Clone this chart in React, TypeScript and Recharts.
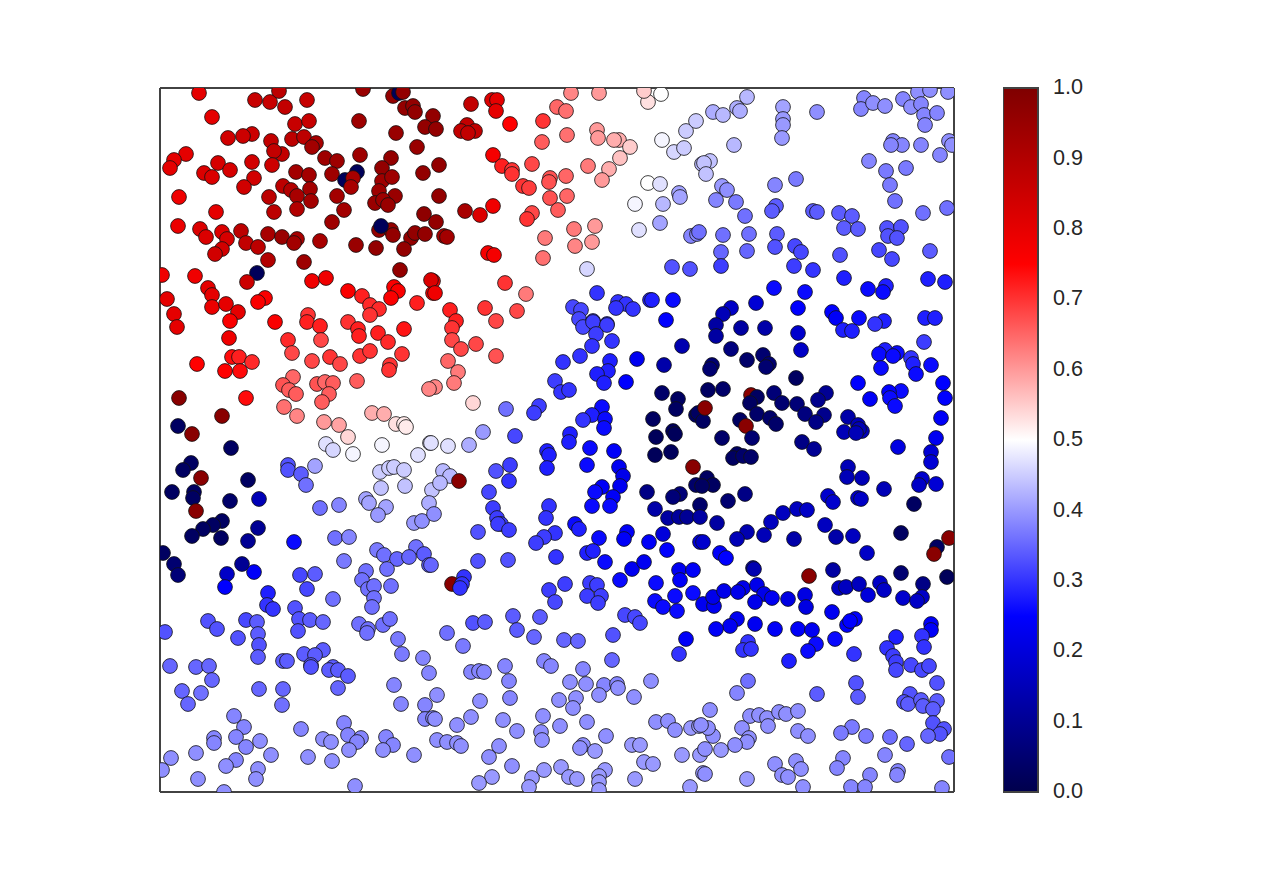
import { Bar, BarChart, Scatter, ScatterChart, XAxis, YAxis } from 'recharts'

type Pt = [number, number, number]

// x, y, value, region by region
const upperLeft: Pt[] = [
  [39,699,.8],[95,692,.86],[110,690,.86],[119,701,.88],[125,685,.87],[147,692,.86],[52,675,.8],[203,703,.95],[233,696,.96],[239,699,.02],[243,700,.96],[245,684,.96],[253,686,.96],[255,680,.96],[273,676,.96],[199,671,.94],[135,668,.86],[149,671,.86],[265,665,.96],[236,659,.95],[92,658,.85],[83,656,.85],[68,654,.84],[111,651,.87],[132,653,.88],[144,655,.88],[156,649,.92],[152,645,.93],[257,645,.95],[26,638,.8],[14,632,.8],[10,624,.8],[58,629,.83],[70,622,.83],[44,619,.82],[52,615,.82],[92,630,.84],[122,638,.87],[114,641,.87],[112,627,.85],[165,634,.94],[177,631,.94],[200,637,.94],[231,634,.96],[222,624,.96],[136,620,.93],[149,617,.93],[172,618,.94],[197,620,.02],[185,612,.02],[193,614,.92],[191,605,.92],[222,611,.94],[232,615,.94],[263,619,.96],[94,614,.84],[84,605,.84],[123,606,.88],[131,602,.9],[150,603,.93],[137,596,.92],[151,591,.93],[109,595,.88],[19,595,.78],[177,596,.93],[219,601,.94],[235,596,.95],[215,589,.95],[223,592,.94],[228,587,.95],[114,580,.88],[137,583,.9],[184,582,.93],[56,580,.8],[264,578,.97],[172,570,.94],[18,566,.79],[40,563,.82],[46,555,.82],[62,560,.82],[67,553,.83],[81,561,.88],[62,543,.84],[55,538,.84],[86,549,.87],[98,545,.88],[108,558,.92],[122,555,.95],[137,553,.92],[134,549,.93],[160,551,.92],[196,547,.95],[216,544,.96],[219,562,.96],[231,562,.96],[233,557,.96],[221,566,.02],[251,554,.96],[255,559,.96],[265,558,.96],[244,543,.96],[108,532,.9],[144,530,.94],[240,522,.96],[2,517,.78],[35,516,.78],[97,519,.02],[87,510,.85],[152,511,.78],[166,514,.78],[48,504,.8],[52,497,.8],[52,485,.79],[66,488,.8],[78,480,.8],[70,471,.76],[7,493,.8],[14,478,.8],[105,494,.76],[98,490,.76],[188,501,.76],[202,496,.72],[210,487,.71],[219,483,.71],[210,477,.7],[234,505,.76],[238,501,.76],[231,494,.76],[257,489,.72],[273,511,.76],[273,499,.76],[148,477,.7],[115,470,.76],[188,470,.7],
]
const upperMiddle: Pt[] = [
  [276,663,.96],[279,627,.96],[279,596,.96],[276,570,.96],[284,556,.93],[287,555,.93],[305,581,.92],[320,577,.82],[333,586,.78],[311,688,.87],[332,692,.82],[337,692,.8],[336,681,.8],[350,668,.75],[307,667,.87],[301,661,.87],[315,661,.87],[308,659,.87],[383,671,.7],[382,650,.66],[397,685,.65],[406,681,.64],[411,699,.62],[439,699,.6],[407,657,.64],[437,662,.6],[438,654,.6],[459,652,.58],[454,652,.58],[470,645,.55],[460,634,.56],[333,637,.77],[342,626,.72],[352,622,.7],[352,618,.7],[372,628,.68],[428,626,.63],[449,623,.58],[442,612,.6],[406,616,.65],[390,614,.67],[389,610,.67],[363,606,.7],[369,604,.69],[407,596,.65],[390,594,.67],[398,582,.66],[372,579,.68],[367,573,.7],[414,563,.63],[435,566,.6],[385,554,.63],[432,550,.6],[415,546,.62],[383,534,.64],[328,539,.77],[334,537,.77],[427,523,.46],[271,512,.82],[275,499,.78],[345,509,.7],[366,498,.63],[325,484,.7],[357,481,.68],[290,482,.72],[296,471,.72],[336,471,.68],[502,652,.49],[475,588,.49],[488,609,.5],[500,608,.47],[479,562,.47],[503,588,.43],[519,599,.41],[520,595,.41],[500,569,.41],[514,640,.46],[524,644,.45],[526,661,.45],[536,671,.45],[501,698,.5],[488,690,.53],[484,701,.55],[542,628,.43],[531,556,.38],[537,558,.38],[512,525,.33],[530,523,.33],[437,499,.3],[413,485,.32],[421,482,.32],[458,490,.3],[466,488,.3],[473,483,.3],[456,484,.3],[490,492,.28],[492,492,.28],[513,492,.26],[506,472,.25],[419,473,.32],[433,471,.31],[447,468,.3],
]
const upperRight: Pt[] = [
  [587,695,.43],[553,680,.42],[563,677,.43],[577,684,.42],[580,681,.42],[623,685,.41],[623,673,.4],[623,667,.4],[622,654,.4],[657,680,.39],[574,647,.43],[704,694,.38],[701,683,.38],[713,689,.39],[725,686,.39],[743,693,.38],[751,685,.39],[758,700,.39],[770,702,.39],[761,688,.38],[764,677,.38],[777,679,.38],[765,667,.38],[788,700,.39],[733,651,.38],[742,647,.38],[731,647,.38],[761,647,.38],[789,651,.39],[792,647,.39],[780,637,.38],[709,631,.38],[746,624,.37],[726,621,.37],[730,607,.37],[735,591,.36],[763,579,.36],[787,584,.36],[550,631,.44],[544,629,.44],[546,618,.44],[562,606,.4],[567,602,.39],[556,592,.38],[576,590,.37],[585,576,.36],[615,607,.38],[636,613,.37],[616,586,.34],[612,581,.34],[653,581,.34],[657,580,.34],[679,579,.34],[692,576,.34],[684,564,.34],[698,563,.34],[727,564,.33],[741,565,.33],[728,556,.33],[737,554,.33],[539,560,.36],[563,557,.36],[589,558,.36],[617,558,.34],[615,545,.33],[561,540,.35],[587,541,.35],[635,546,.32],[641,540,.32],[680,537,.33],[719,542,.32],[770,541,.34],[732,533,.32],[561,526,.31],[634,526,.31],[653,522,.3],[684,514,.28],[768,513,.28],[785,510,.28],[726,506,.28],[723,500,.26],[708,503,.26],[614,504,.26],[645,500,.26],[638,484,.25],[596,489,.19],[571,484,.17],[563,478,.15],[672,480,.25],[676,474,.24],[699,474,.26],[724,471,.28],[765,474,.28],[775,474,.28],
]
const centerLeft: Pt[] = [
  [17,465,.8],[147,470,.72],[160,466,.72],[198,463,.72],[199,456,.72],[218,459,.72],[244,463,.73],[69,454,.78],[128,452,.71],[161,452,.68],[228,450,.71],[132,439,.68],[37,428,.75],[72,435,.74],[79,435,.72],[92,430,.71],[80,421,.74],[65,421,.75],[152,431,.68],[170,435,.7],[180,428,.68],[200,436,.7],[210,441,.7],[242,438,.7],[230,427,.7],[229,422,.7],[133,415,.65],[123,407,.67],[129,402,.66],[136,398,.66],[157,408,.67],[165,410,.65],[173,409,.66],[169,398,.66],[162,390,.66],[197,411,.66],[124,385,.64],[137,376,.62],[86,394,.74],[19,394,.98],[62,376,.98],[32,358,.98],[18,366,.03],[71,344,.03],[164,370,.6],[179,367,.59],[212,379,.58],[224,378,.58],[236,368,.53],[244,368,.52],[246,365,.52],[188,355,.54],[222,347,.49],[166,348,.47],[173,342,.46],[193,338,.49],[258,337,.47],[270,349,.47],[31,329,.03],[23,322,.03],[41,314,.98],[88,312,.03],[12,300,.03],[34,300,.03],[33,294,.03],[70,291,.04],[99,293,.15],[36,281,.98],[62,271,.03],[53,267,.03],[43,263,.03],[32,256,.03],[61,254,.03],[98,264,.1],[88,251,.1],[134,250,.26],[128,327,.33],[128,322,.33],[141,318,.34],[146,307,.36],[155,326,.41],[220,320,.45],[229,324,.45],[234,325,.45],[244,322,.45],[221,304,.44],[245,306,.44],[272,302,.44],[206,293,.41],[209,289,.41],[226,285,.41],[218,277,.4],[269,289,.42],[254,269,.4],[262,271,.39],[160,284,.36],[179,287,.38],[175,254,.36],[189,255,.38],[217,242,.37],[224,237,.36],[256,245,.36],[237,233,.35],[249,235,.35],[264,238,.34],[3,239,.03],
]
const centerMiddle: Pt[] = [
  [292,464,.7],[292,452,.68],[301,443,.68],[316,448,.68],[336,436,.67],[288,431,.65],[298,420,.63],[294,409,.63],[275,405,.62],[269,403,.62],[313,389,.54],[346,383,.36],[379,386,.31],[374,379,.31],[323,360,.4],[355,356,.32],[271,349,.47],[288,346,.47],[309,347,.42],[283,321,.43],[290,316,.43],[299,311,.98],[280,309,.43],[274,278,.39],[336,321,.33],[350,327,.31],[349,311,.3],[329,300,.32],[333,284,.31],[337,274,.31],[341,268,.31],[338,268,.31],[349,262,.31],[318,260,.33],[387,341,.28],[389,337,.28],[387,324,.28],[410,358,.28],[409,350,.28],[430,344,.26],[427,327,.26],[454,341,.24],[459,325,.23],[463,316,.22],[460,306,.23],[442,305,.24],[435,300,.26],[453,295,.24],[450,286,.26],[432,286,.26],[442,385,.26],[432,377,.28],[423,372,.3],[445,373,.26],[444,364,.26],[389,286,.3],[386,274,.3],[395,259,.3],[384,255,.31],[376,249,.31],[415,268,.26],[419,263,.28],[439,254,.26],[467,260,.24],[464,253,.24],[489,250,.24],[503,258,.2],[507,242,.25],[427,239,.28],[433,241,.28],[396,235,.3],[522,446,.14],[477,433,.23],[504,427,.13],[466,410,.25],[502,399,.04],[518,393,.03],[516,383,.03],[536,377,.03],[493,373,.03],[496,355,.02],[513,361,.02],[515,358,.02],[495,337,.02],[511,340,.02],[533,325,.98],[536,307,.04],[487,300,.08],[520,298,.06],[513,295,.06],[540,287,.04],[495,283,.13],[508,274,.12],[519,275,.11],[527,275,.1],[540,275,.12],[540,250,.2],[423,465,.32],[433,470,.31],[447,467,.31],[436,458,.31],[452,451,.3],[432,446,.3],[420,436,.3],[403,430,.3],[450,431,.28],[448,421,.28],[437,418,.28],[444,409,.28],[395,411,.31],[401,400,.3],[409,402,.3],
]
const centerRight: Pt[] = [
  [556,467,.12],[556,456,.12],[581,464,.12],[605,464,.13],[638,459,.18],[641,442,.17],[683,462,.28],[692,461,.28],[715,468,.3],[764,450,.31],[725,442,.28],[719,438,.26],[737,439,.26],[733,436,.26],[751,434,.3],[753,428,.28],[771,427,.26],[756,418,.26],[721,424,.26],[571,443,.07],[587,432,.04],[603,437,.05],[609,428,.05],[606,425,.05],[552,427,.05],[550,423,.05],[636,414,.03],[698,409,.25],[783,409,.25],[741,401,.26],[729,400,.25],[730,394,.26],[735,386,.26],[710,393,.24],[785,394,.25],[781,374,.24],[776,354,.23],[548,402,.03],[563,403,.04],[614,399,.06],[622,389,.05],[637,388,.06],[666,399,.1],[658,392,.09],[645,378,.07],[664,377,.09],[656,370,.08],[591,397,.98],[597,395,.03],[590,389,.03],[597,378,.04],[610,374,.04],[616,368,.04],[580,372,.03],[586,366,.98],[538,379,.03],[543,371,.03],[545,384,.98],[562,354,.04],[592,354,.05],[642,350,.08],[654,343,.1],[688,375,.13],[698,367,.15],[702,361,.15],[699,363,.15],[684,360,.15],[696,359,.15],[738,345,.21],[771,340,.19],[771,330,.19],[577,338,.03],[573,334,.03],[583,336,.04],[591,335,.04],[688,325,.15],[687,315,.15],[702,314,.15],[547,314,.03],[553,307,.03],[542,306,.03],[762,313,.18],[759,307,.17],[776,308,.19],[724,303,.15],[668,296,.18],[673,290,.18],[698,294,.17],[701,293,.17],[585,298,.08],[568,291,.05],[557,269,.12],[611,270,.16],[623,279,.16],[637,283,.16],[647,282,.17],[754,288,.03],[665,267,.16],[676,255,.13],[693,256,.16],[707,239,.17],[741,259,.03],[587,260,.14],[577,253,.15],[604,257,.15],[634,253,.13],[543,250,.18],[560,239,.24],[566,234,.25],[789,254,.98],[777,245,.03],[774,238,.98],
]
const lowerLeft: Pt[] = [
  [14,228,.05],[18,217,.06],[67,218,.17],[82,228,.1],[94,220,.24],[65,205,.25],[140,217,.32],[155,218,.34],[147,203,.32],[173,193,.36],[184,231,.37],[206,221,.36],[202,212,.36],[208,203,.36],[214,206,.36],[214,194,.36],[212,185,.36],[231,206,.36],[227,223,.36],[269,227,.34],[108,199,.28],[107,187,.3],[113,183,.3],[48,171,.33],[57,163,.33],[78,154,.33],[86,172,.32],[97,170,.34],[98,158,.34],[99,147,.33],[98,135,.34],[5,160,.33],[135,184,.33],[139,173,.33],[150,172,.34],[163,170,.35],[138,161,.33],[199,168,.36],[208,163,.36],[207,159,.36],[223,167,.36],[230,173,.36],[238,153,.37],[242,138,.37],[263,134,.38],[269,119,.38],[144,138,.34],[163,142,.34],[155,137,.34],[151,127,.34],[151,125,.33],[123,131,.34],[127,131,.34],[173,125,.34],[169,122,.34],[178,122,.34],[188,116,.34],[178,104,.35],[10,126,.35],[36,125,.35],[49,126,.35],[52,112,.35],[22,101,.35],[41,99,.36],[28,88,.35],[99,103,.35],[123,103,.35],[122,87,.36],[234,107,.38],[241,88,.38],[265,87,.38],[265,73,.38],[273,74,.38],[74,76,.38],[84,65,.38],[76,55,.38],[54,54,.38],[54,49,.38],[100,51,.39],[86,45,.38],[36,39,.39],[11,34,.39],[111,37,.39],[76,32,.38],[66,26,.39],[2,22,.39],[98,23,.39],[96,13,.39],[38,13,.39],[64,0,.39],[141,63,.38],[163,53,.39],[171,50,.39],[184,69,.38],[188,57,.38],[201,54,.38],[197,50,.38],[189,42,.39],[148,35,.39],[172,31,.39],[226,55,.38],[233,47,.38],[223,42,.39],[254,37,.39],[195,6,.39],
]
const lowerMiddle: Pt[] = [
  [271,227,.35],[304,215,.3],[292,208,.98],[302,208,.3],[300,204,.3],[318,231,.33],[348,232,.33],[445,230,.26],[472,223,.23],[484,230,.23],[460,212,.26],[519,222,.23],[533,222,.24],[520,212,.24],[496,209,.26],[515,196,.26],[533,199,.26],[495,191,.26],[503,185,.26],[517,181,.26],[389,202,.31],[405,208,.31],[395,190,.32],[430,209,.31],[437,207,.31],[441,196,.31],[427,196,.31],[438,189,.31],[465,177,.32],[475,175,.32],[480,169,.32],[313,169,.33],[325,170,.34],[353,176,.34],[380,175,.34],[357,162,.34],[374,155,.35],[404,152,.35],[418,151,.35],[453,157,.33],[287,159,.36],[303,146,.37],[526,153,.24],[519,138,.3],[452,132,.35],[311,120,.38],[319,121,.38],[324,120,.38],[345,126,.38],[349,111,.38],[384,131,.38],[391,126,.38],[423,123,.38],[410,110,.39],[426,108,.39],[444,107,.38],[439,97,.39],[457,108,.38],[458,104,.39],[491,111,.39],[474,95,.39],[277,97,.39],[275,73,.39],[320,91,.39],[350,94,.38],[399,92,.39],[416,94,.39],[413,84,.39],[311,75,.39],[297,67,.39],[343,72,.39],[383,76,.39],[400,66,.39],[427,70,.39],[357,61,.39],[381,60,.39],[382,52,.39],[446,56,.39],[277,52,.39],[287,50,.39],[297,49,.39],[301,46,.39],[339,46,.39],[329,35,.39],[352,26,.39],[423,47,.39],[420,44,.39],[435,41,.4],[472,47,.4],[480,47,.4],[496,70,.39],[508,71,.39],[515,62,.39],[531,64,.4],[539,66,.4],[522,37,.4],[540,37,.4],[484,30,.4],[493,28,.4],[401,25,.4],[409,15,.4],[417,13,.4],[384,22,.4],[372,14,.4],[369,5,.4],[332,15,.4],[319,9,.4],[445,22,.4],[439,16,.4],[439,10,.4],[439,2,.4],[475,13,.4],[530,5,.4],[543,19,.4],
]
const lowerRight: Pt[] = [
  [593,224,.14],[594,223,.14],[649,216,.98],[673,222,.12],[741,219,.05],[787,215,.02],[763,208,.08],[543,188,.23],[554,186,.23],[553,195,.22],[564,201,.22],[583,204,.22],[578,200,.22],[597,207,.22],[604,198,.22],[595,190,.22],[612,194,.23],[628,193,.21],[645,197,.21],[646,185,.21],[679,204,.16],[686,205,.16],[699,208,.16],[720,209,.17],[724,202,.17],[708,197,.2],[743,194,.18],[762,195,.17],[757,191,.17],[672,180,.23],[577,173,.23],[570,166,.23],[556,163,.24],[595,168,.23],[615,163,.24],[638,163,.24],[652,162,.23],[675,153,.26],[695,173,.25],[687,167,.25],[690,171,.25],[771,168,.24],[771,162,.24],[762,156,.3],[736,155,.28],[656,148,.26],[648,141,.26],[588,150,.3],[583,142,.3],[591,143,.3],[629,131,.28],[694,138,.3],[764,145,.3],[727,144,.3],[733,136,.31],[736,130,.31],[736,122,.32],[751,127,.32],[762,122,.32],[769,126,.32],[588,111,.36],[577,99,.38],[657,98,.34],[696,109,.33],[698,95,.34],[777,109,.33],[750,98,.33],[744,90,.33],[748,88,.34],[761,92,.34],[763,86,.34],[777,91,.34],[773,83,.34],[773,69,.33],[784,63,.33],[780,58,.33],[768,56,.35],[747,48,.35],[730,55,.36],[706,56,.37],[692,65,.37],[681,59,.37],[725,37,.38],[683,34,.38],[677,24,.38],[789,35,.36],[738,21,.38],[737,17,.38],[710,17,.38],[691,5,.38],[705,5,.38],[782,4,.38],[550,82,.39],[590,76,.39],[599,77,.39],[607,74,.39],[608,66,.39],[619,80,.39],[626,78,.39],[638,81,.39],[582,64,.39],[638,61,.39],[648,56,.39],[589,54,.39],[587,50,.39],[575,47,.39],[561,42,.4],[553,56,.39],[548,64,.39],[541,67,.39],[545,43,.39],[615,28,.39],[636,31,.39],[641,23,.39],[622,17,.39],[628,15,.39],[545,18,.39],[587,13,.4],[643,5,.39],
]

const regions = [upperLeft, upperMiddle, upperRight, centerLeft, centerMiddle, centerRight, lowerLeft, lowerMiddle, lowerRight]
const colorTicks = [0, 0.1, 0.2, 0.3, 0.4, 0.5, 0.6, 0.7, 0.8, 0.9, 1]
const colorStops: [number, number[]][] = [
  [0, [0, 0, 76]],
  [0.25, [0, 0, 255]],
  [0.5, [255, 255, 255]],
  [0.75, [255, 0, 0]],
  [1, [127, 0, 0]],
]

const toColor = (v: number) => {
  let i = 0
  while (i < colorStops.length - 2 && v > colorStops[i + 1][0]) i++
  const [a, ca] = colorStops[i]
  const [b, cb] = colorStops[i + 1]
  const t = (v - a) / (b - a)
  const c = ca.map((n, k) => Math.round(n + (cb[k] - n) * t))
  return `rgb(${c[0]},${c[1]},${c[2]})`
}

const frameLine = { stroke: '#424242', strokeWidth: 2 }
const textColor = '#262626'

const Dot = (props: any) => (
  <circle cx={props.cx} cy={props.cy} r={7.4} fill={toColor(props.payload.v)} stroke="#111" strokeWidth={0.8} />
)

export default function App() {
  return (
    <div style={{ position: 'absolute', left: 0, top: 0, width: 1280, height: 880, fontFamily: 'Liberation Sans' }}>
      <div style={{ position: 'absolute', left: 0, top: 0 }}>
        <ScatterChart width={1280} height={880} margin={{ top: 87, right: 325, bottom: 87, left: 159 }}>
          <XAxis type="number" dataKey="x" domain={[0, 794]} allowDataOverflow height={1} tick={false} tickLine={false} axisLine={frameLine} />
          <XAxis xAxisId="top" orientation="top" type="number" domain={[0, 794]} height={1} tick={false} tickLine={false} axisLine={frameLine} />
          <YAxis type="number" dataKey="y" domain={[0, 704]} allowDataOverflow width={1} tick={false} tickLine={false} axisLine={frameLine} />
          <YAxis yAxisId="right" orientation="right" type="number" domain={[0, 704]} width={1} tick={false} tickLine={false} axisLine={frameLine} />
          {regions.map((pts, i) => (
            <Scatter
              key={i}
              data={pts.map(([x, y, v]) => ({ x, y, v }))}
              shape={Dot}
              isAnimationActive={false}
            />
          ))}
        </ScatterChart>
      </div>
      <div style={{ position: 'absolute', left: 1003, top: 0 }}>
        <BarChart
          width={120}
          height={880}
          data={[{ name: 'scale', top: 1 }]}
          margin={{ top: 88, right: 0, bottom: 88, left: 0 }}
          barCategoryGap={0}
        >
          <defs>
            <linearGradient id="scaleFill" x1="0" y1="1" x2="0" y2="0">
              {colorStops.map(([offset, c]) => (
                <stop key={offset} offset={offset} stopColor={`rgb(${c[0]},${c[1]},${c[2]})`} />
              ))}
            </linearGradient>
          </defs>
          <XAxis dataKey="name" hide />
          <YAxis
            orientation="right"
            type="number"
            domain={[0, 1]}
            ticks={colorTicks}
            interval={0}
            width={85}
            axisLine={false}
            tickLine={false}
            tickMargin={9}
            tickFormatter={(v: number) => v.toFixed(1)}
            tick={{ fontSize: 21.6, fill: textColor, dy: -1.5 }}
          />
          <Bar dataKey="top" fill="url(#scaleFill)" stroke="#424242" strokeWidth={2} isAnimationActive={false} />
        </BarChart>
      </div>
    </div>
  )
}
